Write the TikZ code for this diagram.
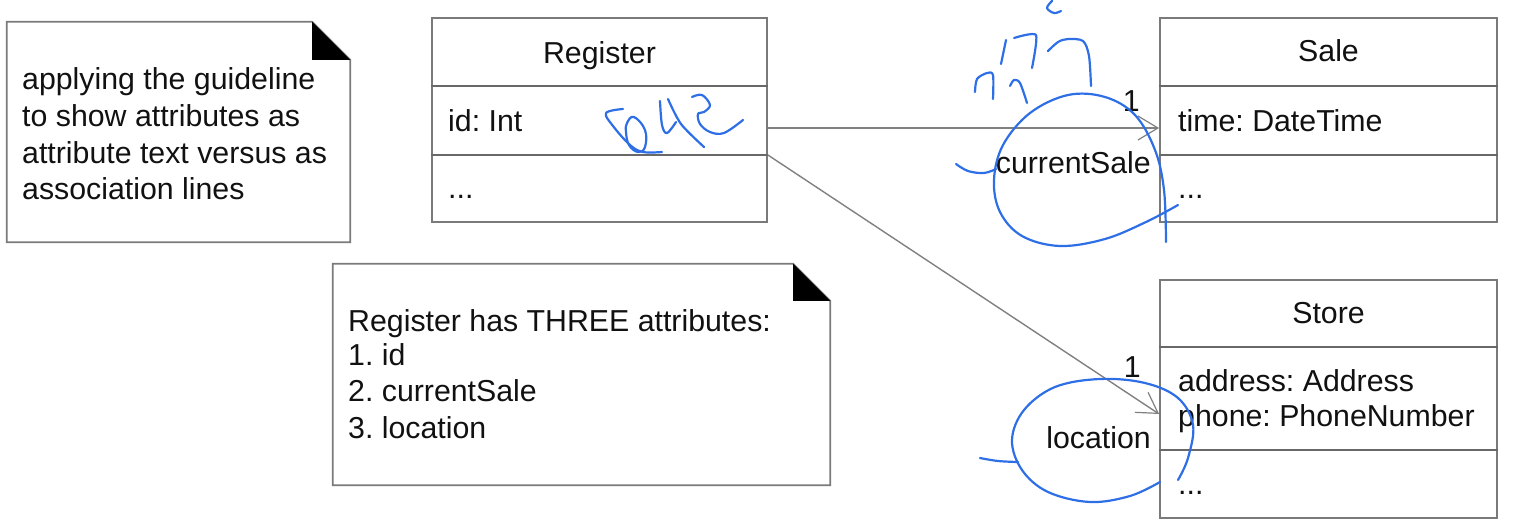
\documentclass[tikz,border=0pt]{standalone}
\usepackage{fontspec}
\setmainfont{Liberation Sans}
\usetikzlibrary{arrows.meta}
\frenchspacing
\definecolor{boxgray}{HTML}{7A7A7A}
\definecolor{linegray}{HTML}{808080}
\definecolor{ink}{HTML}{2F6FE6}
\definecolor{txt}{HTML}{111111}
\tikzset{
  classbox/.style={draw=boxgray, line width=1.8pt, fill=white, inner sep=0pt},
  notebox/.style={draw=none, inner sep=0pt},
  noteline/.style={draw=boxgray, line width=1.8pt, line join=miter},
  compline/.style={draw=boxgray!85!black, line width=1.8pt},
  assoc/.style={draw=linegray, line width=1.4pt, -{Straight Barb[length=20pt,width=24pt,line width=1.2pt]}},
  lbl/.style={text=txt, inner sep=0pt, font=\fontsize{30.3}{36}\selectfont},
  handink/.style={draw=ink, line width=2.2pt, line cap=round, line join=round},
}
\begin{document}
\begin{tikzpicture}[x=1pt,y=-1pt]
\useasboundingbox (0,0) rectangle (1515,530);

% ---------- note 1 ----------
\node[notebox, minimum width=343pt, minimum height=220pt] (n1) at (178.5,132) {};
\draw[noteline] (n1.north west) -- ([xshift=-38pt]n1.north east) -- ([yshift=-38pt]n1.north east) -- (n1.south east) -- (n1.south west) -- cycle;
\fill[black] ([xshift=-38pt]n1.north east) -- ([yshift=-38pt]n1.north east) -- ([xshift=-38pt,yshift=-38pt]n1.north east) -- cycle;
\node[lbl, anchor=base west] (n1a) at (22,89) {applying the guideline};
\node[lbl, anchor=base west] (n1b) at (22,126) {to show attributes as};
\node[lbl, anchor=base west] (n1c) at (22,163) {attribute text versus as};
\node[lbl, anchor=base west] (n1d) at (22,199) {association lines};

% ---------- note 2 ----------
\node[notebox, minimum width=497pt, minimum height=221pt] (n2) at (581.5,374.5) {};
\draw[noteline] (n2.north west) -- ([xshift=-37pt]n2.north east) -- ([yshift=-37pt]n2.north east) -- (n2.south east) -- (n2.south west) -- cycle;
\fill[black] ([xshift=-37pt]n2.north east) -- ([yshift=-37pt]n2.north east) -- ([xshift=-37pt,yshift=-37pt]n2.north east) -- cycle;
\node[lbl, anchor=base west] (n2a) at (348,331) {Register has THREE attributes:};
\node[lbl, anchor=base west] (n2b) at (348,365) {1. id};
\node[lbl, anchor=base west] (n2c) at (348,401) {2. currentSale};
\node[lbl, anchor=base west] (n2d) at (348,438) {3. location};

% ---------- Register ----------
\node[classbox, minimum width=335pt, minimum height=204pt] (reg) at (599.5,120) {};
\coordinate (regL1) at (reg.west |- 0,86);  \coordinate (regR1) at (reg.east |- 0,86);
\coordinate (regL2) at (reg.west |- 0,155); \coordinate (regR2) at (reg.east |- 0,155);
\draw[compline] (regL1) -- (regR1);
\draw[compline] (regL2) -- (regR2);
\node[lbl, anchor=base] (regname) at (599.5,63) {Register};
\node[lbl, anchor=base west] (regattr) at (448,131) {id: Int};
\node[lbl, anchor=base west] (regops) at (448,198) {...};

% ---------- Sale ----------
\node[classbox, minimum width=337pt, minimum height=204pt] (sale) at (1328.5,120) {};
\coordinate (saleL1) at (sale.west |- 0,86);  \coordinate (saleR1) at (sale.east |- 0,86);
\coordinate (saleL2) at (sale.west |- 0,155); \coordinate (saleR2) at (sale.east |- 0,155);
\draw[compline] (saleL1) -- (saleR1);
\draw[compline] (saleL2) -- (saleR2);
\node[lbl, anchor=base] (salename) at (1328.5,61) {Sale};
\node[lbl, anchor=base west] (saleattr) at (1178,131) {time: DateTime};
\node[lbl, anchor=base west] (saleops) at (1178,198) {...};

% ---------- Store ----------
\node[classbox, minimum width=337pt, minimum height=238pt] (store) at (1328.5,399) {};
\coordinate (stL1) at (store.west |- 0,347); \coordinate (stR1) at (store.east |- 0,347);
\coordinate (stL2) at (store.west |- 0,450); \coordinate (stR2) at (store.east |- 0,450);
\draw[compline] (stL1) -- (stR1);
\draw[compline] (stL2) -- (stR2);
\node[lbl, anchor=base] (storename) at (1328.5,323) {Store};
\node[lbl, anchor=base west] (stattr1) at (1178,391) {address: Address};
\node[lbl, anchor=base west] (stattr2) at (1178,426) {phone: PhoneNumber};
\node[lbl, anchor=base west] (stops) at (1178,494) {...};

% ---------- associations ----------
\draw[assoc] ([yshift=-8pt]reg.east) -- ([yshift=-8pt]sale.west);
\draw[assoc] (regR2) -- ([yshift=-15pt]store.west);
\node[lbl, anchor=base east] (m1) at (1140,111) {1};
\node[lbl, anchor=base east] (r1) at (1151,173) {currentSale};
\node[lbl, anchor=base east] (m2) at (1141,377) {1};
\node[lbl, anchor=base east] (r2) at (1151,448) {location};

% ---------- handwritten blue annotations ----------
% scribble on Register
\draw[handink] plot[smooth, tension=0.6] coordinates {(623,109) (606,113) (613,126) (630,145) (643,152) (662,152)};
\draw[handink] plot[smooth cycle, tension=0.7] coordinates {(627,123) (634,117) (645,130) (645,147) (638,152) (629,145) (626,132)};
\draw[handink] plot[smooth, tension=0.6] coordinates {(660,101) (662,125) (667,133) (676,122)};
\draw[handink] plot[smooth, tension=0.5] coordinates {(668,99) (681,124) (704,147)};
\draw[handink] plot[smooth, tension=0.6] coordinates {(692,97) (702,95) (710,105) (704,112) (698,114) (700,124) (710,132) (724,133) (743,120)};
% scribble above currentSale
\draw[handink] plot[smooth, tension=0.5] coordinates {(975,92) (977,79) (987,73) (993,75) (993,99)};
\draw[handink] plot[smooth, tension=0.5] coordinates {(1010,86) (1014,80) (1020,83) (1027,103)};
\draw[handink] (1001,64) -- (1006,40);
\draw[handink] plot[smooth, tension=0.4] coordinates {(1014,38) (1036,35) (1032,68)};
\draw[handink] plot[smooth, tension=0.5] coordinates {(1048,51) (1058,42) (1068,39) (1083,41) (1089,56) (1091,86)};
\draw[handink] plot[smooth, tension=0.6] coordinates {(1052,1) (1047,8) (1054,13) (1061,11)};
% circle around currentSale
\draw[handink] plot[smooth, tension=0.6] coordinates {(1178,205) (1146,222) (1105,239) (1060,246) (1022,236) (1000,212) (994,180) (1003,145) (1030,113) (1068,95) (1105,97) (1135,115) (1155,150) (1164,190) (1166,242)};
\draw[handink] plot[smooth, tension=0.6] coordinates {(956,164) (968,171) (984,173) (996,169)};
% circle around location
\draw[handink] plot[smooth, tension=0.6] coordinates {(980,458) (998,461) (1018,462)};
\draw[handink] plot[smooth, tension=0.6] coordinates {(1160,482) (1130,496) (1090,502) (1048,492) (1022,470) (1012,440) (1024,410) (1055,387) (1100,379) (1145,383) (1178,398) (1193,425) (1188,458) (1178,480)};
\end{tikzpicture}
\end{document}
